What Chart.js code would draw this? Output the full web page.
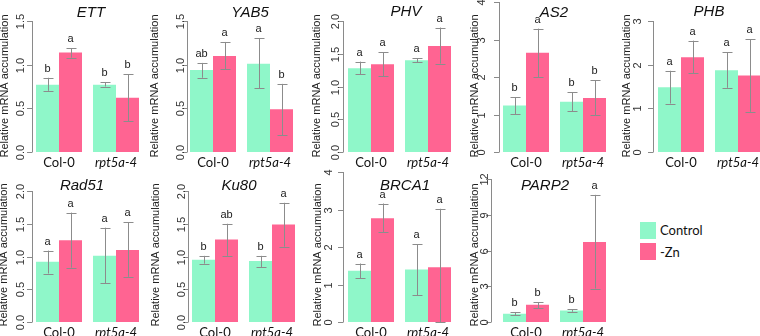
<!DOCTYPE html>
<html>
<head>
<meta charset="utf-8">
<script src="https://cdn.jsdelivr.net/npm/chart.js@4.4.1/dist/chart.umd.min.js"></script>
<style>
  body { margin: 0; width: 760px; height: 336px; overflow: hidden; background: #fff; position: relative; }
  .panel { position: absolute; left: 0; top: 0; }
  .key { position: absolute; width: 16px; height: 17px; }
  .keytext { position: absolute; font-family: Lato, "Open Sans", sans-serif; font-size: 13px; color: #111; line-height: 16px; }
</style>
</head>
<body>
<div class="key" style="left:640px;top:222px;background:#8ff7c9"></div>
<div class="keytext" style="left:660px;top:222px">Control</div>
<div class="key" style="left:640px;top:243px;background:#ff6492"></div>
<div class="keytext" style="left:660px;top:244px">-Zn</div>

<script>
// genotypes on the x axis of every panel
const groups = ['Col-0', 'rpt5a-4'];
const genes = ['ETT', 'YAB5', 'PHV', 'AS2', 'PHB', 'Rad51', 'Ku80', 'BRCA1', 'PARP2'];

// Control: mean and error bar ends, [Col-0, rpt5a-4]
const controlMean = [[0.77, 0.77], [0.94, 1.01], [1.28, 1.40], [1.24, 1.34], [1.48, 1.87],
                     [0.92, 1.01], [0.95, 0.93], [1.37, 1.40], [0.70, 0.97]];
const controlLow  = [[0.70, 0.75], [0.85, 0.73], [1.19, 1.37], [1.01, 1.09], [1.11, 1.47],
                     [0.74, 0.59], [0.89, 0.84], [1.17, 0.72], [0.56, 0.86]];
const controlHigh = [[0.85, 0.80], [1.02, 1.30], [1.38, 1.43], [1.46, 1.59], [1.86, 2.28],
                     [1.09, 1.44], [1.01, 1.01], [1.56, 2.08], [0.84, 1.09]];

// -Zn: mean and error bar ends
const znMean = [[1.14, 0.62], [1.10, 0.49], [1.34, 1.62], [2.65, 1.44], [2.17, 1.75],
                [1.25, 1.10], [1.26, 1.49], [2.77, 1.46], [1.45, 6.71]];
const znLow  = [[1.08, 0.35], [0.95, 0.19], [1.16, 1.35], [2.00, 0.98], [1.80, 0.92],
                [0.83, 0.69], [1.01, 1.15], [2.39, 0.00], [1.17, 2.81]];
const znHigh = [[1.19, 0.89], [1.26, 0.78], [1.52, 1.90], [3.29, 1.91], [2.55, 2.58],
                [1.67, 1.52], [1.50, 1.82], [3.16, 3.02], [1.64, 10.67]];

// significance letters
const controlLetters = [['b', 'b'], ['ab', 'a'], ['a', 'a'], ['b', 'b'], ['a', 'a'],
                        ['a', 'a'], ['b', 'b'], ['a', 'a'], ['b', 'b']];
const znLetters = [['a', 'b'], ['a', 'b'], ['a', 'a'], ['a', 'b'], ['a', 'a'],
                   ['a', 'a'], ['ab', 'a'], ['a', 'a'], ['b', 'a']];

// y axis range and ticks
const yMax  = [1.5, 1.5, 2, 4, 3, 2, 2, 4, 12];
const yStep = [0.5, 0.5, 0.5, 1, 1, 0.5, 0.5, 1, 3];
const yDecimals = [1, 1, 1, 0, 0, 1, 1, 0, 0];

// panel placement on the page (pixels)
const layout = [
  // left of plot, top, bottom, axis x, tick label x, y title x, y title y, title x, title y
  { left: 30.5,  top: 21,  bottom: 152, axisX: 32,  tickX: 21,    ytX: 4.5,   ytY: 86,  tX: 91,  tY: 13 },
  { left: 184.5, top: 21,  bottom: 152, axisX: 187, tickX: 180.5, ytX: 154.5, ytY: 86,  tX: 250, tY: 13 },
  { left: 342.5, top: 21,  bottom: 152, axisX: 343, tickX: 335.5, ytX: 317,   ytY: 86,  tX: 406, tY: 12 },
  { left: 497.5, top: 2,   bottom: 152, axisX: 499, tickX: 482,   ytX: 475,   ytY: 86,  tX: 554, tY: 13 },
  { left: 652.5, top: 21,  bottom: 152, axisX: 653, tickX: 638,   ytX: 626.5, ytY: 86,  tX: 709, tY: 12 },
  { left: 30.5,  top: 191, bottom: 322, axisX: 32,  tickX: 21,    ytX: 3.5,   ytY: 255, tX: 82,  tY: 186 },
  { left: 186.5, top: 191, bottom: 322, axisX: 188, tickX: 181.5, ytX: 155.5, ytY: 255, tX: 239, tY: 186 },
  { left: 342.5, top: 172, bottom: 322, axisX: 343, tickX: 329,   ytX: 317.5, ytY: 255, tX: 405, tY: 186 },
  { left: 497.5, top: 179, bottom: 322, axisX: 491, tickX: 484.5, ytX: 475,   ytY: 255, tX: 545, tY: 186 }
];

const W = 780, H = 336, PLOT_W = 114, XAXIS_H = 20;
const mint = '#8ff7c9';
const pink = '#ff6492';
const arial = '"Liberation Sans", Arial, sans-serif';

function makeDecor(i) {
  const p = layout[i];
  return {
    id: 'decor' + i,
    afterDraw(chart) {
      const ctx = chart.ctx;
      const y = chart.scales.y;
      ctx.save();

      // y axis line, ticks and rotated labels
      ctx.strokeStyle = '#8a8a8a';
      ctx.lineWidth = 1;
      ctx.beginPath();
      ctx.moveTo(p.axisX + 0.5, y.getPixelForValue(0));
      ctx.lineTo(p.axisX + 0.5, y.getPixelForValue(yMax[i]));
      ctx.stroke();
      ctx.fillStyle = '#333';
      ctx.font = '11px ' + arial;
      ctx.textAlign = 'center';
      ctx.textBaseline = 'middle';
      for (let v = 0; v <= yMax[i] + 1e-9; v += yStep[i]) {
        const py = Math.round(y.getPixelForValue(v)) + 0.5;
        ctx.beginPath();
        ctx.moveTo(p.axisX + 0.5, py);
        ctx.lineTo(p.axisX - 5, py);
        ctx.stroke();
        ctx.save();
        ctx.translate(p.tickX, py);
        ctx.rotate(-Math.PI / 2);
        ctx.fillText(v.toFixed(yDecimals[i]), 0, 0);
        ctx.restore();
      }

      // y axis title
      ctx.save();
      ctx.translate(p.ytX, p.ytY);
      ctx.rotate(-Math.PI / 2);
      ctx.fillStyle = '#222';
      ctx.fillText('Relative mRNA accumulation', 0, 0);
      ctx.restore();

      // gene name
      ctx.font = 'italic 15px ' + arial;
      ctx.fillStyle = '#111';
      ctx.fillText(genes[i], p.tX, p.tY);

      // error bars and letters
      const lows = [controlLow[i], znLow[i]];
      const highs = [controlHigh[i], znHigh[i]];
      const letters = [controlLetters[i], znLetters[i]];
      ctx.font = '11px ' + arial;
      for (let d = 0; d < 2; d++) {
        chart.getDatasetMeta(d).data.forEach((bar, j) => {
          const x = Math.round(bar.x) + 0.5;
          const lo = y.getPixelForValue(lows[d][j]);
          const hi = y.getPixelForValue(highs[d][j]);
          ctx.strokeStyle = '#8c8c8c';
          ctx.beginPath();
          ctx.moveTo(x, lo); ctx.lineTo(x, hi);
          ctx.moveTo(x - 5, Math.round(lo) + 0.5); ctx.lineTo(x + 5, Math.round(lo) + 0.5);
          ctx.moveTo(x - 5, Math.round(hi) + 0.5); ctx.lineTo(x + 5, Math.round(hi) + 0.5);
          ctx.stroke();
          ctx.fillStyle = '#222';
          ctx.fillText(letters[d][j], bar.x, hi - 9);
        });
      }
      ctx.restore();
    }
  };
}

genes.forEach((gene, i) => {
  const p = layout[i];
  const canvas = document.createElement('canvas');
  canvas.className = 'panel';
  canvas.width = W;
  canvas.height = H;
  document.body.appendChild(canvas);

  new Chart(canvas.getContext('2d'), {
    type: 'bar',
    data: {
      labels: groups,
      datasets: [
        { label: 'Control', data: controlMean[i], backgroundColor: mint, borderWidth: 0 },
        { label: '-Zn', data: znMean[i], backgroundColor: pink, borderWidth: 0 }
      ]
    },
    options: {
      responsive: false,
      animation: false,
      events: [],
      categoryPercentage: 46 / 57,
      barPercentage: 1,
      layout: {
        padding: {
          left: p.left,
          right: W - p.left - PLOT_W,
          top: p.top,
          bottom: H - p.bottom - XAXIS_H
        }
      },
      plugins: { legend: { display: false }, tooltip: { enabled: false } },
      scales: {
        x: {
          grid: { display: false, drawTicks: false },
          border: { display: false },
          ticks: {
            padding: 3,
            color: '#111',
            font: ctx => ({ family: 'Lato, "Open Sans", sans-serif', size: 13, style: ctx.index === 1 ? 'italic' : 'normal' })
          },
          afterFit: s => { s.height = XAXIS_H; }
        },
        y: { display: false, min: 0, max: yMax[i] }
      }
    },
    plugins: [makeDecor(i)]
  });
});
</script>
</body>
</html>
